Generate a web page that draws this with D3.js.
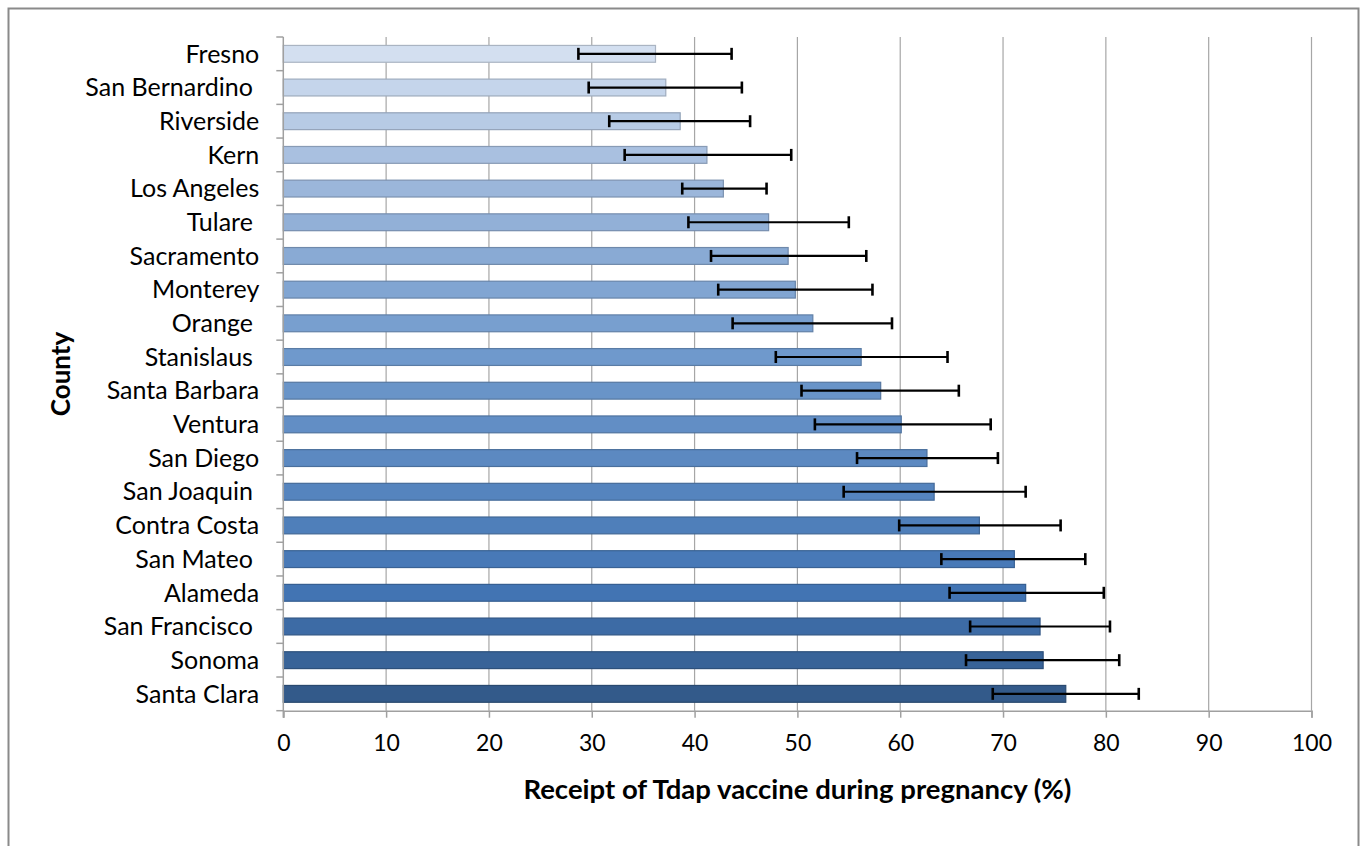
<!DOCTYPE html>
<html>
<head>
<meta charset="utf-8">
<script src="https://cdn.jsdelivr.net/npm/d3@7"></script>
<style>
  html, body { margin: 0; padding: 0; background: #fff; }
  svg { display: block; }
  text { font-family: Lato, "Open Sans", sans-serif; fill: #000; }
</style>
</head>
<body>
<svg id="chart" width="1362" height="846"></svg>
<script>
// County names (top to bottom); some carry a trailing space as in the source table
const counties = [
  "Fresno", "San Bernardino ", "Riverside", "Kern", "Los Angeles",
  "Tulare ", "Sacramento", "Monterey", "Orange ", "Stanislaus ",
  "Santa Barbara", "Ventura", "San Diego", "San Joaquin ", "Contra Costa",
  "San Mateo ", "Alameda", "San Francisco ", "Sonoma", "Santa Clara"
];
// Percent receiving Tdap during pregnancy
const pct = [
  36.2, 37.2, 38.6, 41.2, 42.8,
  47.2, 49.1, 49.8, 51.5, 56.2,
  58.1, 60.1, 62.6, 63.3, 67.7,
  71.1, 72.2, 73.6, 73.9, 76.1
];
// 95% confidence interval bounds
const ciLow = [
  28.7, 29.7, 31.7, 33.2, 38.8,
  39.4, 41.6, 42.3, 43.7, 47.9,
  50.4, 51.7, 55.8, 54.5, 59.9,
  64.0, 64.8, 66.8, 66.4, 69.0
];
const ciHigh = [
  43.6, 44.6, 45.4, 49.4, 47.0,
  55.0, 56.7, 57.3, 59.2, 64.6,
  65.7, 68.8, 69.5, 72.2, 75.6,
  78.0, 79.8, 80.4, 81.3, 83.2
];
const xTicks = [0, 10, 20, 30, 40, 50, 60, 70, 80, 90, 100];

const svg = d3.select("#chart");

// outer chart frame
svg.append("rect")
  .attr("x", 8.5).attr("y", 8.5)
  .attr("width", 1350).attr("height", 880)
  .attr("fill", "none").attr("stroke", "#8a8a8a").attr("stroke-width", 2);

const plot = { left: 283.3, right: 1311.5, top: 37, bottom: 710.7 };

const x = d3.scaleLinear().domain([0, 100]).range([plot.left, plot.right]);
const y = d3.scaleBand().domain(d3.range(counties.length))
  .range([plot.top, plot.bottom]).paddingInner(0.5).paddingOuter(0.25);

// light-to-dark blue ramp down the list
const fill = d3.scaleLinear()
  .domain([0, 4, 9, 16, 19])
  .range(["#d3dff0", "#9bb6da", "#6f99cc", "#4274b3", "#335a8a"]);

// vertical gridlines
svg.append("g").selectAll("line").data(xTicks.filter(d => d > 0)).join("line")
  .attr("x1", d => x(d)).attr("x2", d => x(d))
  .attr("y1", plot.top).attr("y2", plot.bottom)
  .attr("stroke", "#a6a6a6").attr("stroke-width", 1.2);

// bars
svg.append("g").selectAll("rect").data(pct).join("rect")
  .attr("x", x(0))
  .attr("y", (d, i) => y(i))
  .attr("width", d => x(d) - x(0))
  .attr("height", y.bandwidth())
  .attr("fill", (d, i) => fill(i))
  .attr("stroke", (d, i) => d3.color(fill(i)).darker(0.6))
  .attr("stroke-width", 1.2);

// error bars
const eb = svg.append("g").attr("stroke", "#000").attr("stroke-width", 2.2);
counties.forEach((c, i) => {
  const cy = y(i) + y.bandwidth() / 2;
  eb.append("line").attr("x1", x(ciLow[i])).attr("x2", x(ciHigh[i])).attr("y1", cy).attr("y2", cy);
  [ciLow[i], ciHigh[i]].forEach(v => {
    eb.append("line").attr("x1", x(v)).attr("x2", x(v)).attr("y1", cy - 6).attr("y2", cy + 6).attr("stroke-width", 2.6);
  });
});

// x axis
const xAxis = svg.append("g")
  .attr("transform", `translate(0,${plot.bottom})`)
  .call(d3.axisBottom(x).tickValues(xTicks).tickSize(7).tickPadding(17));
xAxis.select(".domain").attr("stroke", "#a0a0a0").attr("stroke-width", 1.5);
xAxis.selectAll(".tick line").attr("stroke", "#a0a0a0").attr("stroke-width", 1.5);
xAxis.selectAll(".tick text").attr("font-size", 23).attr("fill", "#000")
  .style("font-family", "Lato, sans-serif");

// y axis: tick marks sit on category boundaries
const yAxisG = svg.append("g").attr("transform", `translate(${plot.left},0)`);
yAxisG.append("line").attr("x1", 0).attr("x2", 0)
  .attr("y1", plot.top).attr("y2", plot.bottom + 7)
  .attr("stroke", "#a0a0a0").attr("stroke-width", 1.5);
const step = y.step();
const boundaries = d3.range(counties.length + 1).map(i => y(0) - y.paddingOuter() * step + i * step);
yAxisG.selectAll("line.tk").data(boundaries).join("line").attr("class", "tk")
  .attr("x1", -7).attr("x2", 0).attr("y1", d => d).attr("y2", d => d)
  .attr("stroke", "#a0a0a0").attr("stroke-width", 1.5);
yAxisG.selectAll("text").data(counties).join("text")
  .attr("x", -24)
  .attr("y", (d, i) => y(i) + y.bandwidth() / 2)
  .attr("dy", "0.35em")
  .attr("text-anchor", "end")
  .attr("font-size", 25)
  .style("white-space", "pre")
  .attr("xml:space", "preserve")
  .text(d => d);

// axis titles
svg.append("text")
  .attr("x", (plot.left + plot.right) / 2 + 0)
  .attr("y", 789)
  .attr("dy", "0.35em")
  .attr("text-anchor", "middle")
  .attr("font-size", 27.5)
  .attr("font-weight", "bold")
  .text("Receipt of Tdap vaccine during pregnancy (%)");

svg.append("text")
  .attr("transform", "translate(61,374) rotate(-90)")
  .attr("dy", "0.35em")
  .attr("text-anchor", "middle")
  .attr("font-size", 26)
  .attr("font-weight", "bold")
  .text("County");
</script>
</body>
</html>
